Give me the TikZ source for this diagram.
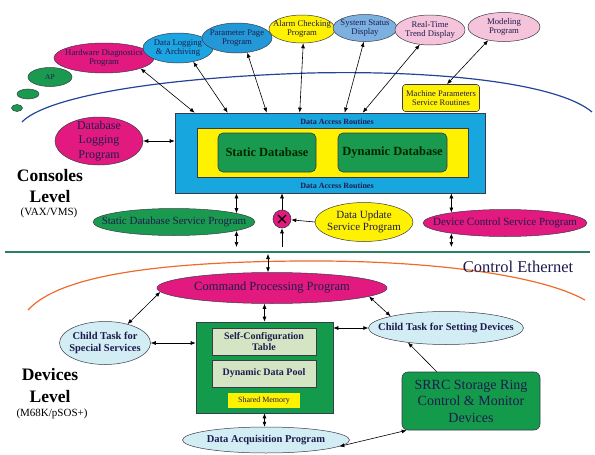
\documentclass[tikz,border=0pt]{standalone}
\usepackage{fontspec}
\setmainfont{Liberation Serif}
\usetikzlibrary{arrows.meta,shapes.geometric,calc}
\definecolor{mag}{HTML}{E2197E}
\definecolor{cyanA}{HTML}{1CA5E0}
\definecolor{cyanB}{HTML}{2299D6}
\definecolor{yel}{HTML}{FFF200}
\definecolor{ssblue}{HTML}{7CB0E0}
\definecolor{lpink}{HTML}{F5C3DA}
\definecolor{grn}{HTML}{1A9A4E}
\definecolor{bluebox}{HTML}{18A6DF}
\definecolor{ltblue}{HTML}{D3EDF4}
\definecolor{ltgrn}{HTML}{D4E5C3}
\definecolor{devgreen}{HTML}{139A4A}
\definecolor{arcblue}{HTML}{24449A}
\definecolor{arcorange}{HTML}{F06A2A}
\definecolor{glinecol}{HTML}{2A7F62}
\definecolor{txt}{HTML}{1E1B4F}
\definecolor{bord}{HTML}{3A3A4A}
\begin{document}
\begin{tikzpicture}[x=1pt,y=-1pt,
  ell/.style={ellipse, draw=bord, line width=.5pt, inner sep=0pt},
  box/.style={rectangle, draw=bord, line width=.6pt, inner sep=1pt, align=center, text=txt},
  fA/.style={font=\fontsize{8.7}{9.5}\selectfont, text=txt, align=center},
  fS/.style={font=\fontsize{7.5}{8}\selectfont, text=txt, align=center},
  fM/.style={font=\fontsize{11}{12}\selectfont, text=txt, align=center},
  fMB/.style={font=\fontsize{10.5}{12.5}\selectfont\bfseries, text=txt, align=center},
  fL/.style={font=\fontsize{12}{14.5}\selectfont, text=txt, align=center},
  arr/.style={-{Latex[length=5pt,width=4pt]}, line width=.6pt},
  darr/.style={{Latex[length=5pt,width=4pt]}-{Latex[length=5pt,width=4pt]}, line width=.6pt},
  lvl/.style={font=\fontsize{17.5}{20}\selectfont\bfseries, text=black},
  lvls/.style={font=\fontsize{11}{13}\selectfont, text=black}
]
\useasboundingbox (0,0) rectangle (595,455);

% arcs and separator
\draw[arcblue, line width=1.2pt] (22,122) .. controls (45,98) and (150,78) .. (310,73) .. controls (450,70) and (560,85) .. (592,112);
\draw[arcorange, line width=1.2pt] (28,310) .. controls (60,275) and (160,262) .. (300,261) .. controls (430,260) and (540,275) .. (585,300);
\coordinate (glL) at (5,252);
\coordinate (glR) at (590,252);
\coordinate (lowend) at (0,247);
\draw[glinecol, line width=1.5pt] (glL) -- (glR);
\node[font=\fontsize{16.5}{18}\selectfont, text=txt] (ce) at (518,267) {Control Ethernet};

% top application ellipses
\node[ell, fill=grn, minimum width=11pt, minimum height=7pt] (b2) at (17,108) {};
\node[ell, fill=grn, minimum width=22pt, minimum height=10pt] (b1) at (28,94) {};
\node[ell, fill=grn, minimum width=44pt, minimum height=19pt, label={[fS]center:AP}] (ap) at (50,77) {};
\node[ell, fill=mag, minimum width=100pt, minimum height=30pt, label={[fA]center:Hardware Diagnostics\\Program}] (hd) at (104,58) {};
\node[ell, fill=cyanA, minimum width=70pt, minimum height=30pt, label={[fA]center:Data Logging\\\& Archiving}] (dl) at (178,48) {};
\node[ell, fill=cyanB, minimum width=70pt, minimum height=30pt, label={[fA]center:Parameter Page\\Program}] (pp) at (237,38) {};
\node[ell, fill=yel, minimum width=66pt, minimum height=28pt, label={[fA]center:Alarm Checking\\Program}] (ac) at (302,29) {};
\node[ell, fill=ssblue, minimum width=64pt, minimum height=27pt, label={[fA]center:System Status\\Display}] (ss) at (365,28) {};
\node[ell, fill=lpink, minimum width=70pt, minimum height=30pt, label={[fA]center:Real-Time\\Trend Display}] (rt) at (430,30) {};
\node[ell, fill=lpink, minimum width=72pt, minimum height=29pt, label={[fA]center:Modeling\\Program}] (mo) at (504,27) {};
\node[box, fill=yel, rounded corners=3pt, minimum width=77pt, minimum height=27pt, font=\fontsize{8.5}{9.5}\selectfont] (mp) at (441,98) {Machine Parameters\\Service Routines};

% central database block
\node[box, fill=bluebox, minimum width=310pt, minimum height=80pt] (dar) at (330,153) {};
\node[box, fill=yel, minimum width=271pt, minimum height=49pt] (yb) at (332.5,152.5) {};
\node[box, fill=grn, rounded corners=5pt, minimum width=98pt, minimum height=39pt, font=\fontsize{12.5}{14}\selectfont\bfseries, text=black!85!green] (sdb) at (267,152.5) {Static Database};
\node[box, fill=grn, rounded corners=5pt, minimum width=109pt, minimum height=39pt, font=\fontsize{12.5}{14}\selectfont\bfseries, text=black!85!green] (ddb) at (392.5,152.5) {Dynamic Database};
\node[font=\fontsize{8}{9}\selectfont\bfseries, text=txt] (dart) at (337,121.5) {Data Access Routines};
\node[font=\fontsize{8}{9}\selectfont\bfseries, text=txt] (darb) at (337,185.5) {Data Access Routines};

\node[ell, fill=mag, minimum width=88pt, minimum height=48pt, label={[fL]center:Database\\Logging\\Program}] (dbl) at (99,141) {};

\node[lvl] (cons) at (50,176) {Consoles};
\node[lvl] (lev1) at (50,197) {Level};
\node[lvls] (vax) at (49,213) {(VAX/VMS)};

\node[ell, fill=grn, minimum width=162pt, minimum height=27pt, label={[fM]center:Static Database Service Program}] (sds) at (174,222) {};
\node[circle, draw=bord, line width=.6pt, fill=mag, minimum size=18pt, inner sep=0pt] (xc) at (282,219) {};
\draw[line width=1.3pt] ($(xc.45)!0.2!(xc.225)$) -- ($(xc.45)!0.8!(xc.225)$);
\draw[line width=1.3pt] ($(xc.135)!0.2!(xc.315)$) -- ($(xc.135)!0.8!(xc.315)$);
\node[ell, fill=yel, minimum width=98pt, minimum height=39pt, label={[font=\fontsize{11}{12.5}\selectfont, text=txt, align=center]center:Data Update\\Service Program}] (du) at (364,222) {};
\node[ell, fill=mag, minimum width=164pt, minimum height=27pt, label={[fM]center:Device Control Service Program}] (dcs) at (505,223) {};

% devices level
\node[ell, fill=mag, minimum width=230pt, minimum height=31pt, label={[font=\fontsize{12.5}{14}\selectfont, text=txt]center:Command Processing Program}] (cpp) at (272,288) {};
\node[ell, fill=ltblue, minimum width=91pt, minimum height=43pt, label={[fMB]center:Child Task for\\Special Services}] (cts) at (105,343) {};
\node[ell, fill=ltblue, minimum width=155pt, minimum height=33pt, label={[fMB]center:Child Task for Setting Devices}] (ctd) at (446,328) {};
\node[box, fill=devgreen, minimum width=137pt, minimum height=91pt] (dev) at (264.5,367.5) {};
\node[box, fill=ltgrn, minimum width=104pt, minimum height=27pt, font=\fontsize{10}{11.5}\selectfont\bfseries] (scf) at (264,341.5) {Self-Configuration\\Table};
\node[box, fill=ltgrn, minimum width=104pt, minimum height=27pt, font=\fontsize{10}{11.5}\selectfont\bfseries] (ddp) at (264,373.5) {Dynamic Data Pool};
\node[box, fill=yel, draw=none, minimum width=72pt, minimum height=15pt, font=\fontsize{8}{9}\selectfont] (shm) at (264,400.5) {Shared Memory};
\node[ell, fill=ltblue, minimum width=167pt, minimum height=26pt, label={[font=\fontsize{10.5}{12}\selectfont\bfseries, text=txt]center:Data Acquisition Program}] (daq) at (266,440) {};
\node[box, fill=devgreen, rounded corners=6pt, minimum width=138pt, minimum height=58pt, font=\fontsize{14}{16.5}\selectfont, text=txt] (srrc) at (471,401) {SRRC Storage Ring\\Control \& Monitor\\Devices};

\node[lvl] (devs) at (50,375) {Devices};
\node[lvl] (lev2) at (50,397) {Level};
\node[lvls] (m68) at (52,414) {(M68K/pSOS+)};

% connectors, consoles level
\draw[darr] (hd.-16) -- ([xshift=20pt]dar.north west);
\draw[darr] (dl.-42) -- ([xshift=53pt]dar.north west);
\draw[darr] (pp.-55) -- ([xshift=92pt]dar.north west);
\draw[darr] (ac.-85) -- ([xshift=125pt]dar.north west);
\draw[darr] (ss.-95) -- ([xshift=170pt]dar.north west);
\draw[darr] (rt.-125) -- ([xshift=188pt]dar.north west);
\draw[darr] (mo.-140) -- ([xshift=6pt]mp.north);
\draw[darr] (dbl) -- (dbl -| dar.west);
\draw[darr] (sds.8 |- dar.south) -- (sds.8);
\draw[darr] (sds.-8) -- (sds.-8 |- lowend);
\draw[arr] (xc) -- (xc |- dar.south);
\draw[arr] (xc |- lowend) -- (xc);
\draw[arr] (du.west) -- (xc);
\draw[darr] (dcs.169 |- dar.south) -- (dcs.169);
\draw[darr] (dcs.-169) -- (dcs.-169 |- lowend);

% connectors, devices level
\coordinate (cpt) at (268,254);
\draw[darr] (cpt) -- (cpt |- cpp.north);
\draw[darr] (cpp.182) -- (cts.40);
\draw[darr] (cts) -- (cts -| dev.west);
\draw[darr] (cpp.-5) -- (ctd.168);
\draw[darr] (ctd.west) -- (ctd.west -| dev.east);
\draw[darr] (dev.north |- cpp.south) -- (dev.north);
\draw[darr] (dev.south) -- (dev.south |- daq.north);
\draw[arr] ([xshift=35pt]srrc.north west) -- (ctd.201);
\draw[darr] (daq.-5) -- ([xshift=5pt]srrc.south west);
\end{tikzpicture}
\end{document}
